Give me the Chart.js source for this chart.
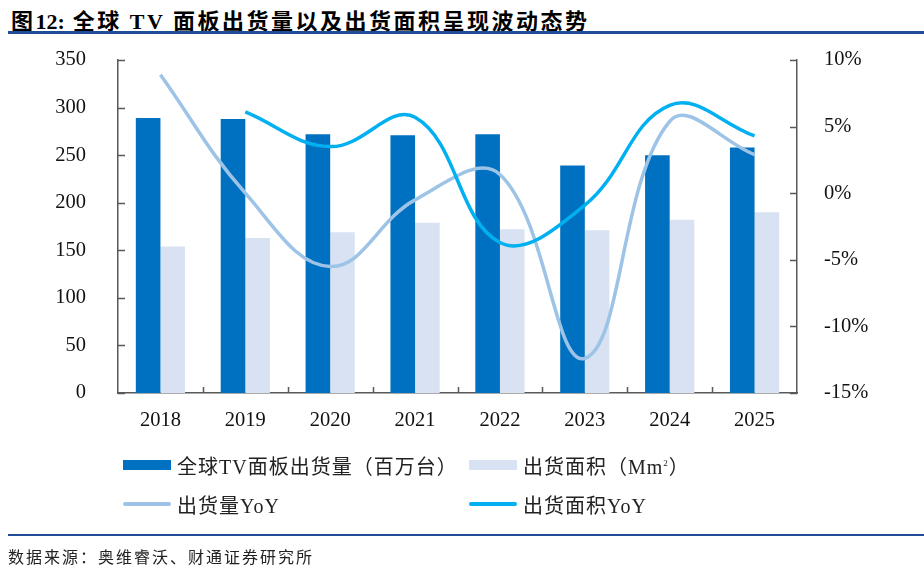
<!DOCTYPE html>
<html>
<head>
<meta charset="utf-8">
<script src="https://cdn.jsdelivr.net/npm/chart.js@4/dist/chart.umd.min.js"></script>
<style>
  html, body { margin: 0; padding: 0; background: #fff; }
  #wrap { position: relative; width: 924px; height: 574px; overflow: hidden; }
  #plot { position: absolute; left: 0; top: 0; }
  .title {
    position: absolute; left: 11px; top: 3px;
    font: bold 22px "Liberation Serif", "Noto Sans CJK SC", serif;
    letter-spacing: 2.5px; color: #000; white-space: nowrap;
  }
  .title .lat { letter-spacing: 0; }
  .rule { position: absolute; left: 8px; right: 0; background: #1f4e96; }
  .source {
    position: absolute; left: 8px; top: 544px;
    font: 16px "Liberation Serif", "Noto Sans CJK SC", serif;
    letter-spacing: 2px; color: #222; white-space: nowrap;
  }
  .legend-item {
    position: absolute; height: 24px; display: flex; align-items: center;
    font: 20px "Liberation Serif", "Noto Sans CJK SC", serif;
    letter-spacing: 1px; color: #222; white-space: nowrap;
  }
  .legend-item .swatch { width: 48px; margin-right: 6px; }
  .legend-item sup { font-size: 9px; }
</style>
</head>
<body>
<div id="wrap">
  <div class="title">图<span class="lat">12:</span> 全球 TV 面板出货量以及出货面积呈现波动态势</div>
  <div class="rule" style="top:31px;height:3px;"></div>
  <canvas id="plot" width="924" height="574"></canvas>
  <div id="legend"></div>
  <div class="rule" style="top:534px;height:2px;"></div>
  <div class="source">数据来源：奥维睿沃、财通证券研究所</div>
</div>
<script>
'use strict';

const years = ['2018', '2019', '2020', '2021', '2022', '2023', '2024', '2025'];
const shipments = [289, 288, 272, 271, 272, 239, 250, 258];      // 百万台
const shippedArea = [154, 163, 169, 179, 172, 171, 182, 190];    // Mm²
const shipmentYoY = [8.9, 0.0, -5.5, -0.5, 1.4, -12.4, 5.4, 2.9];
const areaYoY = [null, 6.1, 3.5, 5.7, -3.7, -0.9, 6.6, 4.3];

const leftTicks = { min: 0, max: 350, step: 50 };
const rightTicks = { min: -15, max: 10, step: 5 };

const colors = {
    shipments: '#0070c0',
    area: '#d9e2f3',
    shipmentYoY: '#9dc3e6',
    areaYoY: '#00b0f0',
    axis: '#595959',
};

const AREA = { left: 118, right: 797, top: 60, bottom: 393 };

// ticks pointing inside the plot, like the original office chart
const inwardTicks = {
    id: 'inwardTicks',
    afterDatasetsDraw(chart) {
        const { ctx, chartArea, scales } = chart;
        ctx.save();
        ctx.strokeStyle = colors.axis;
        ctx.lineWidth = 1.5;
        ctx.beginPath();
        scales.y.ticks.forEach(t => {
            const y = Math.round(scales.y.getPixelForValue(t.value)) + 0.5;
            ctx.moveTo(chartArea.left, y);
            ctx.lineTo(chartArea.left + 7, y);
        });
        scales.y1.ticks.forEach(t => {
            const y = Math.round(scales.y1.getPixelForValue(t.value)) + 0.5;
            ctx.moveTo(chartArea.right, y);
            ctx.lineTo(chartArea.right - 7, y);
        });
        const step = (chartArea.right - chartArea.left) / years.length;
        for (let i = 1; i < years.length; i++) {
            const x = Math.round(chartArea.left + step * i) + 0.5;
            ctx.moveTo(x, chartArea.bottom);
            ctx.lineTo(x, chartArea.bottom - 6);
        }
        ctx.stroke();
        ctx.restore();
    }
};

const tickFont = { family: '"Liberation Serif", serif', size: 20.5 };

const datasets = [
    {
        type: 'bar', label: '全球TV面板出货量（百万台）', data: shipments,
        backgroundColor: colors.shipments, yAxisID: 'y', order: 2,
        categoryPercentage: 0.58, barPercentage: 1.0,
    },
    {
        type: 'bar', label: '出货面积（Mm²）', data: shippedArea,
        backgroundColor: colors.area, yAxisID: 'y', order: 2,
        categoryPercentage: 0.58, barPercentage: 1.0,
    },
    {
        type: 'line', label: '出货量YoY', data: shipmentYoY,
        borderColor: colors.shipmentYoY, borderWidth: 3.5, tension: 0.4,
        pointRadius: 0, yAxisID: 'y1', order: 1,
    },
    {
        type: 'line', label: '出货面积YoY', data: areaYoY,
        borderColor: colors.areaYoY, borderWidth: 3.5, tension: 0.4,
        pointRadius: 0, yAxisID: 'y1', order: 0,
    },
];

new Chart(document.getElementById('plot'), {
    data: { labels: years, datasets },
    options: {
        responsive: false,
        animation: false,
        events: [],
        layout: { padding: { top: AREA.top, bottom: 574 - AREA.bottom - 40, left: 0, right: 0 } },
        plugins: { legend: { display: false }, tooltip: { enabled: false } },
        scales: {
            x: {
                grid: { display: false },
                border: { color: colors.axis, width: 1.5 },
                ticks: { color: '#111', font: tickFont, padding: 7, maxRotation: 0 },
                afterFit(s) { s.height = 40; },
            },
            y: {
                position: 'left',
                min: leftTicks.min, max: leftTicks.max,
                grid: { display: false },
                border: { color: colors.axis, width: 1.5 },
                ticks: { stepSize: leftTicks.step, color: '#111', font: tickFont, padding: 24 },
                afterFit(s) { s.width = AREA.left; },
            },
            y1: {
                position: 'right',
                min: rightTicks.min, max: rightTicks.max,
                grid: { display: false },
                border: { color: colors.axis, width: 1.5 },
                ticks: {
                    stepSize: rightTicks.step, color: '#111', font: tickFont, padding: 19,
                    callback: v => v + '%',
                },
                afterFit(s) { s.width = 924 - AREA.right; },
            },
        },
    },
    plugins: [inwardTicks],
});

// legend laid out as in the source figure: two rows, two columns
const legendSlots = [
    { x: 123, y: 453, kind: 'box' },
    { x: 469, y: 453, kind: 'box' },
    { x: 123, y: 492, kind: 'line' },
    { x: 469, y: 492, kind: 'line' },
];
const legend = document.getElementById('legend');
datasets.forEach((ds, i) => {
    const slot = legendSlots[i];
    const item = document.createElement('div');
    item.className = 'legend-item';
    item.style.left = slot.x + 'px';
    item.style.top = slot.y + 'px';
    const sw = document.createElement('span');
    sw.className = 'swatch';
    sw.style.height = slot.kind === 'box' ? '10px' : '4px';
    sw.style.background = ds.backgroundColor || ds.borderColor;
    if (slot.kind === 'line') sw.style.borderRadius = '2px';
    const text = document.createElement('span');
    text.innerHTML = ds.label.replace('²', '<sup>2</sup>');
    item.appendChild(sw);
    item.appendChild(text);
    legend.appendChild(item);
});
</script>
</body>
</html>
